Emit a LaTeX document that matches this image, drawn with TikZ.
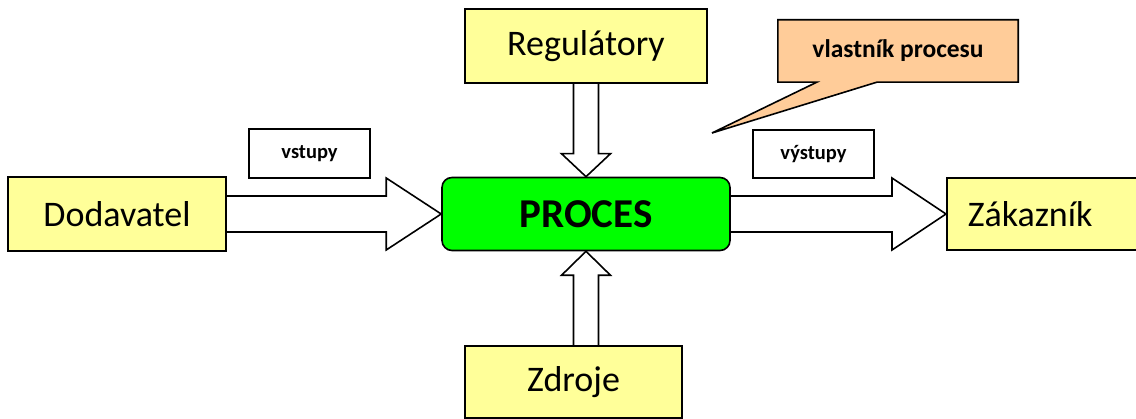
\documentclass[tikz,border=0pt]{standalone}
\usepackage{fontspec}
\setmainfont{Carlito}
\usetikzlibrary{calc,backgrounds}

\definecolor{paleyellow}{HTML}{FFFF99}
\definecolor{procgreen}{HTML}{00FF00}
\definecolor{peach}{HTML}{FFCC99}

\tikzset{
  every picture/.style={x=1pt,y=1pt},
  lw/.style={line width=1.6pt},
  ybox/.style={lw, draw=black, fill=paleyellow, inner sep=0pt,
    font=\fontsize{36}{43}\selectfont},
  procbox/.style={lw, draw=black, fill=procgreen, rounded corners=10pt,
    inner sep=0pt, font=\fontsize{41}{49}\selectfont\bfseries},
  tagbox/.style={lw, draw=black, fill=white, inner sep=0pt,
    font=\fontsize{20.5}{25}\selectfont\bfseries},
  blockarrow/.style={lw, draw=black, fill=white, line join=miter},
  callfill/.style={lw, draw=black, fill=peach, line join=miter},
}

\begin{document}
\begin{tikzpicture}
  \clip (0,0) rectangle (1136,419);

  % main boxes
  \node[procbox, minimum width=288, minimum height=73] (proc) at (586,205) {PROCES};
  \node[ybox, minimum width=218, minimum height=74] (dod) at (117,205) {Dodavatel};
  \node[ybox, minimum width=200, minimum height=72, anchor=west,
        text width=158, align=left, inner xsep=21pt] (zak) at (946,205) {Zákazník};
  \node[ybox, minimum width=242, minimum height=74] (reg) at (586,373) {Regulátory};
  \node[ybox, minimum width=217, minimum height=72] (zdr) at (573.5,37) {Zdroje};

  % labels above the flows
  \node[tagbox, minimum width=121, minimum height=49] (vst) at (309.5,265.5) {vstupy};
  \node[tagbox, minimum width=121, minimum height=48] (vys) at (813.5,265) {výstupy};

  % owner callout
  \coordinate (tip) at (712,286);
  \node[inner sep=0pt, minimum width=240, minimum height=62,
        font=\fontsize{25.5}{30}\selectfont\bfseries] (own) at (898,368) {vlastník procesu};

  % feet of the vertical arrows, on the process axis
  \coordinate (regfoot) at (proc.north |- reg.south);
  \coordinate (zdrfoot) at (proc.south |- zdr.north);

  \begin{scope}[on background layer]
    % inputs: supplier -> process
    \draw[blockarrow]
      ($(dod.east)+(0,18)$) -- ($(proc.west)+(-55,18)$) -- ($(proc.west)+(-55,36)$)
      -- (proc.west)
      -- ($(proc.west)+(-55,-36)$) -- ($(proc.west)+(-55,-18)$) -- ($(dod.east)+(0,-18)$);
    % outputs: process -> customer
    \draw[blockarrow]
      ($(proc.east)+(0,18)$) -- ($(zak.west)+(-54,18)$) -- ($(zak.west)+(-54,36)$)
      -- (zak.west)
      -- ($(zak.west)+(-54,-36)$) -- ($(zak.west)+(-54,-18)$) -- ($(proc.east)+(0,-18)$);
    % regulators -> process
    \draw[blockarrow]
      ($(regfoot)+(-12.5,0)$) -- ($(proc.north)+(-12.5,23)$) -- ($(proc.north)+(-24.5,23)$)
      -- (proc.north)
      -- ($(proc.north)+(24.5,23)$) -- ($(proc.north)+(12.5,23)$) -- ($(regfoot)+(12.5,0)$);
    % resources -> process
    \draw[blockarrow]
      ($(zdrfoot)+(-12.5,0)$) -- ($(proc.south)+(-12.5,-24)$) -- ($(proc.south)+(-24.5,-24)$)
      -- (proc.south)
      -- ($(proc.south)+(24.5,-24)$) -- ($(proc.south)+(12.5,-24)$) -- ($(zdrfoot)+(12.5,0)$);
    % callout body with its pointer
    \draw[callfill]
      (own.north west) -- (own.north east) -- (own.south east)
      -- ($(own.south west)+(99,0)$) -- (tip) -- ($(own.south west)+(39,0)$)
      -- (own.south west) -- cycle;
  \end{scope}
\end{tikzpicture}
\end{document}
